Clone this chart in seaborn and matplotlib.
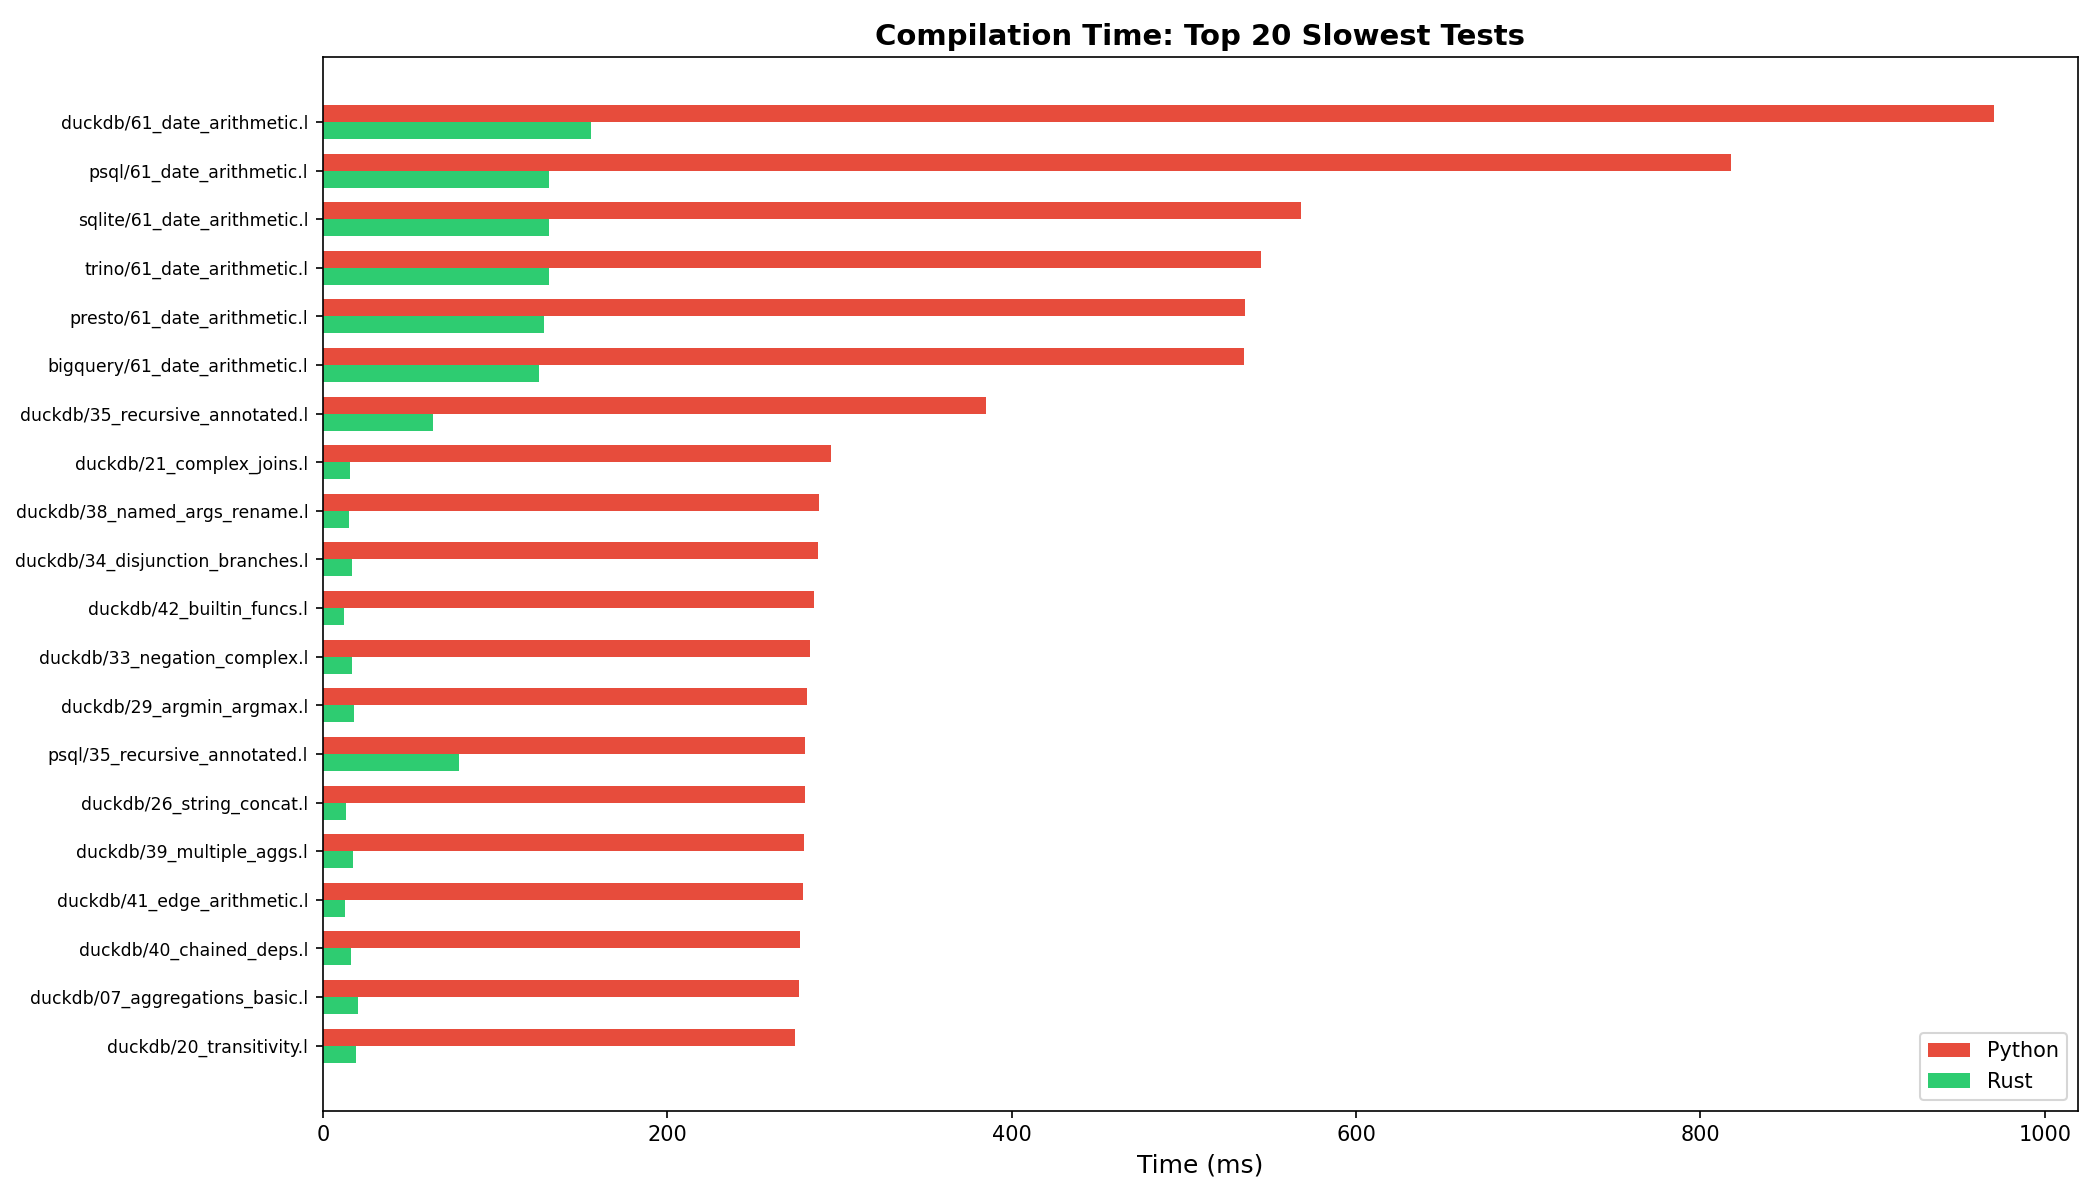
import pandas as pd
import matplotlib
matplotlib.use("Agg")
import matplotlib.pyplot as plt
import seaborn as sns

tests = [
    "duckdb/61_date_arithmetic.l",
    "psql/61_date_arithmetic.l",
    "sqlite/61_date_arithmetic.l",
    "trino/61_date_arithmetic.l",
    "presto/61_date_arithmetic.l",
    "bigquery/61_date_arithmetic.l",
    "duckdb/35_recursive_annotated.l",
    "duckdb/21_complex_joins.l",
    "duckdb/38_named_args_rename.l",
    "duckdb/34_disjunction_branches.l",
    "duckdb/42_builtin_funcs.l",
    "duckdb/33_negation_complex.l",
    "duckdb/29_argmin_argmax.l",
    "psql/35_recursive_annotated.l",
    "duckdb/26_string_concat.l",
    "duckdb/39_multiple_aggs.l",
    "duckdb/41_edge_arithmetic.l",
    "duckdb/40_chained_deps.l",
    "duckdb/07_aggregations_basic.l",
    "duckdb/20_transitivity.l",
]
python_ms = [970.4, 817.8, 568.0, 545.0, 535.6, 535.2, 385.4, 295.4, 287.9, 287.3,
             285.0, 283.2, 280.9, 280.3, 280.3, 279.7, 278.6, 277.4, 276.8, 274.5]
rust_ms = [155.7, 131.6, 131.1, 131.1, 128.5, 125.4, 64.0, 15.8, 15.5, 17.0,
           12.5, 16.9, 18.2, 79.0, 13.3, 17.7, 12.7, 16.2, 20.4, 19.2]

df = pd.DataFrame({"test": tests, "Python": python_ms, "Rust": rust_ms})
long_df = df.melt(id_vars="test", var_name="impl", value_name="ms")

fig, ax = plt.subplots(figsize=(14, 8), dpi=150)
sns.barplot(data=long_df, y="test", x="ms", hue="impl", order=tests,
            hue_order=["Python", "Rust"],
            palette={"Python": "#e74c3c", "Rust": "#2ecc71"},
            width=0.7, saturation=1, orient="h", ax=ax)

# same padding matplotlib would give bars of height 0.35
n = len(tests)
ax.set_ylim(n - 1 + 0.35 + 0.985, -0.35 - 0.985)
ax.set_xlim(0, max(python_ms) * 1.05)
ax.set_ylabel("")
ax.set_xlabel("Time (ms)", fontsize=12)
ax.set_title("Compilation Time: Top 20 Slowest Tests", fontsize=14, fontweight="bold")
ax.tick_params(axis="y", labelsize=8.25)
ax.legend(loc="lower right", title=None)
plt.tight_layout()
fig.subplots_adjust(left=0.1537)
plt.savefig("out.png")
plt.close()
